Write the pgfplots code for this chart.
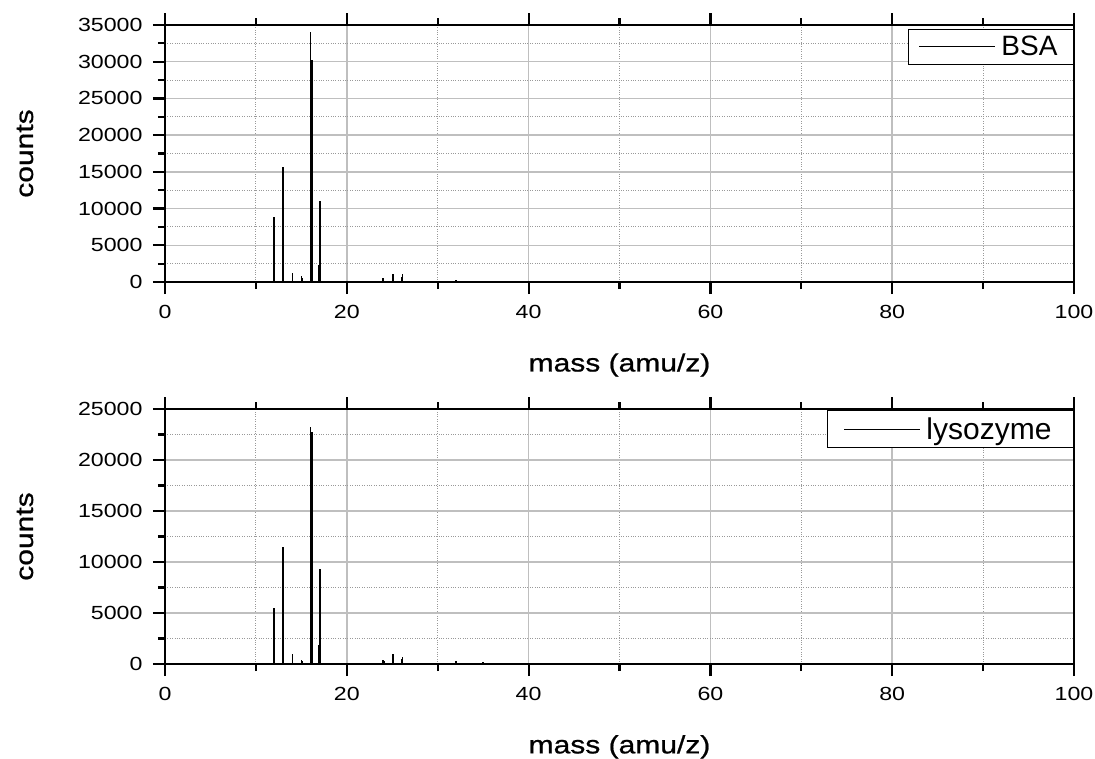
\documentclass[border=0pt]{standalone}
\usepackage{fontspec}
\setmainfont{Liberation Sans}
\newfontfamily\widefont{Liberation Sans}[FakeStretch=1.22]
\newfontfamily\labelfont{Liberation Sans}[FakeStretch=1.2, FakeBold=0.8]
\usepackage{pgfplots}
\pgfplotsset{compat=1.18}

\pgfplotsset{
  ms/.style={
    scale only axis, width=909pt,
    xmin=0, xmax=100, ymin=0,
    xtick={0,20,...,100}, minor x tick num=1, minor y tick num=1,
    grid=both,
    major grid style={solid, draw=black!25, line width=1.5pt},
    minor grid style={dotted, draw=black!40, line width=0.9pt},
    axis line style={line width=2.2pt},
    every tick/.style={black, line width=2.2pt},
    tick align=outside, major tick length=12pt, minor tick length=7pt,
    xtick pos=both, ytick pos=left,
    scaled ticks=false,
    /pgf/number format/1000 sep={},
    /pgf/number format/assume math mode=true,
    tick label style={font=\widefont\fontsize{19}{19}\selectfont},
    xticklabel style={yshift=-8pt},
    yticklabel style={xshift=-7pt},
    label style={font=\labelfont\fontsize{25}{25}\selectfont},
    xlabel={mass (amu/z)},
    ylabel={counts},
    ylabel style={at={(axis description cs:-0.154,0.5)}, anchor=center},
    legend style={draw=black, line width=1pt, font=\fontsize{28}{30}\selectfont,
      anchor=north east, inner xsep=10pt, inner ysep=5pt, rounded corners=0pt,
      nodes={inner xsep=6pt}},
    legend image code/.code={\draw[black, line width=0.8pt] (0pt,0pt) -- (76pt,0pt);},
    legend cell align=left,
  },
  spec/.style={ycomb, black, line width=1.4pt, mark=none},
}

\begin{document}
\begin{tikzpicture}
\useasboundingbox (0,0) rectangle (1095pt,-758pt);

\begin{axis}[ms,
  at={(165pt,-282pt)}, anchor=south west, height=257pt,
  ymax=35000, ytick={0,5000,...,35000},
  xlabel style={at={(axis description cs:0.5,-0.323)}, anchor=center},
  legend style={at={(axis description cs:1,0.985)}},
]
\addplot[spec] coordinates {
  (12,8800) (13,15700) (14,1250) (15,850) (15.1,600)
  (16,34100) (16.1,30300) (16.2,30300) (16.95,2300) (17.05,11000)
  (24,600) (25,900) (25.1,1050) (26,700) (26.1,1050) (32,300) (35,200)
};
\addlegendentry{BSA}
\end{axis}

\begin{axis}[ms,
  at={(165pt,-664pt)}, anchor=south west, height=255pt,
  ymax=25000, ytick={0,5000,...,25000},
  xlabel style={at={(axis description cs:0.5,-0.325)}, anchor=center},
  legend style={at={(axis description cs:1,0.996)}, inner xsep=16pt,
    font=\fontsize{30}{32}\selectfont},
]
\addplot[spec] coordinates {
  (12,5500) (13,11500) (14,1000) (15,420) (15.1,300)
  (16,23200) (16.1,22700) (16.2,22700) (16.95,1900) (17.05,9350)
  (24,420) (24.1,250) (25,900) (25.1,980) (26,450) (26.1,700) (32,250) (35,200)
};
\addlegendentry{lysozyme}
\end{axis}
\end{tikzpicture}
\end{document}
